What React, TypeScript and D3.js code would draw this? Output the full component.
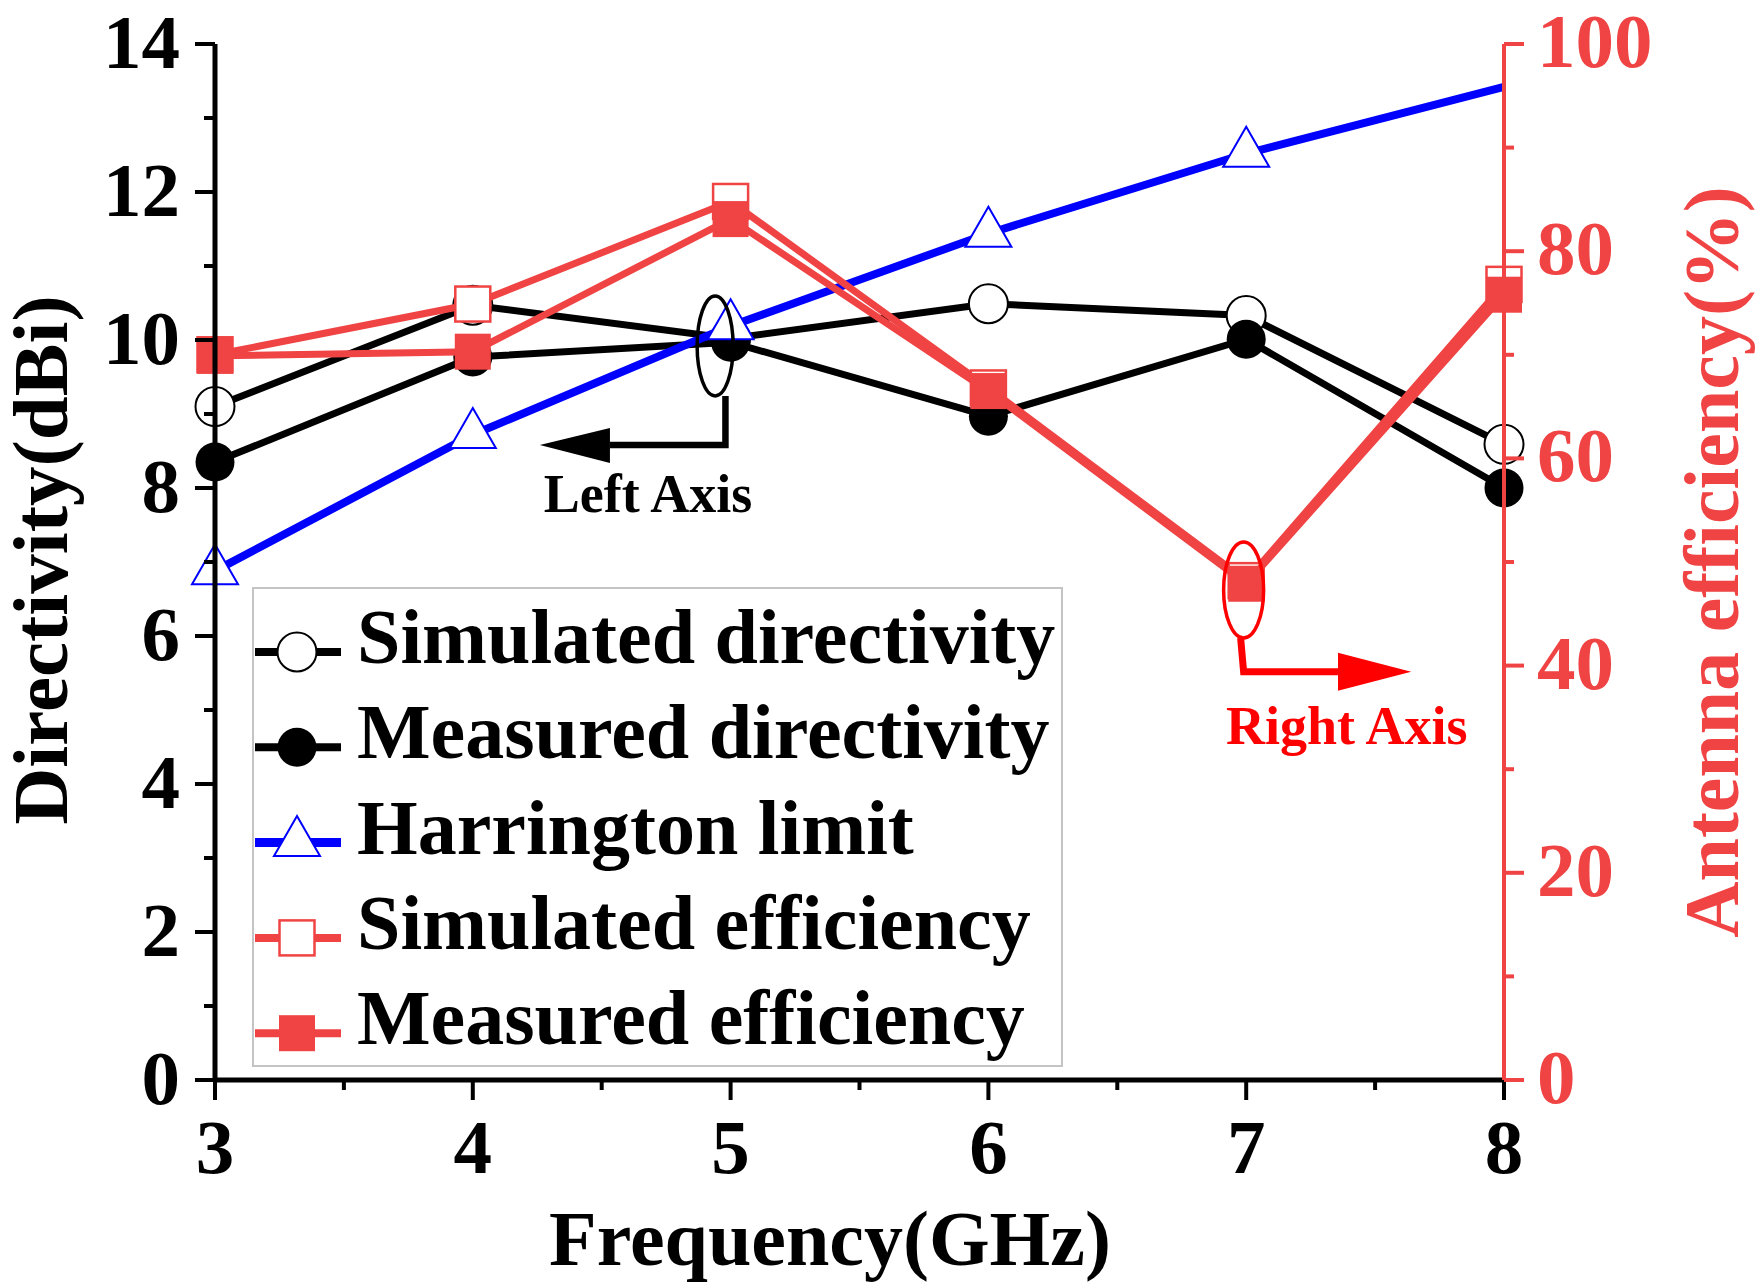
import React, { useEffect } from "react";
import * as d3 from "d3";

// ---- data ----
const frequency = [3, 4, 5, 6, 7, 8];
const simulatedDirectivity = [9.1, 10.47, 10.02, 10.49, 10.33, 8.59];
const measuredDirectivity = [8.35, 9.77, 9.97, 8.97, 10.01, 8.0];
const harringtonLimit = [6.88, 8.72, 10.19, 11.44, 12.52, 13.42];
const simulatedEfficiency = [70.0, 74.9, 84.8, 66.8, 48.2, 76.8];
const measuredEfficiency = [69.9, 70.3, 83.1, 66.5, 47.9, 75.8];

const xTickValues = [3, 4, 5, 6, 7, 8];
const xMinorTicks = [3.5, 4.5, 5.5, 6.5, 7.5];
const leftTickValues = [0, 2, 4, 6, 8, 10, 12, 14];
const leftMinorTicks = [1, 3, 5, 7, 9, 11, 13];
const rightTickValues = [0, 20, 40, 60, 80, 100];
const rightMinorTicks = [10, 30, 50, 70, 90];

const legendLabels = [
  "Simulated directivity",
  "Measured directivity",
  "Harrington limit",
  "Simulated efficiency",
  "Measured efficiency",
];

const FONT = '"Liberation Serif", "Times New Roman", serif';
const RED = "#F04343";
const BRIGHT_RED = "#FF0000";
const BLUE = "#0000FF";

type MarkerKind = "openCircle" | "filledCircle" | "triangle" | "openSquare" | "filledSquare";

function Marker({ kind, cx, cy }: { kind: MarkerKind; cx: number; cy: number }) {
  if (kind === "openCircle")
    return <circle cx={cx} cy={cy} r={19.5} fill="#fff" stroke="#000" strokeWidth={2} />;
  if (kind === "filledCircle") return <circle cx={cx} cy={cy} r={19.5} fill="#000" />;
  if (kind === "openSquare")
    return <rect x={cx - 17.5} y={cy - 17.5} width={35} height={35} fill="#fff" stroke={RED} strokeWidth={2.5} />;
  if (kind === "filledSquare") return <rect x={cx - 18} y={cy - 18} width={36} height={36} fill={RED} />;
  const w = 46,
    h = 40;
  const pts = [
    [cx, cy - (2 * h) / 3],
    [cx + w / 2, cy + h / 3],
    [cx - w / 2, cy + h / 3],
  ];
  return <polygon points={pts.map((p) => p.join(",")).join(" ")} fill="#fff" stroke={BLUE} strokeWidth={2} />;
}

export default function App() {
  useEffect(() => {
    document.body.style.margin = "0";
  }, []);

  const W = 1757;
  const H = 1288;
  const x = d3.scaleLinear().domain([3, 8]).range([215, 1504]);
  const yL = d3.scaleLinear().domain([0, 14]).range([1080, 44]);
  const yR = d3.scaleLinear().domain([0, 100]).range([1080, 44]);

  const lineL = (vals: number[]) =>
    d3.line<number>().x((_, i) => x(frequency[i])).y((d) => yL(d))(vals) || "";
  const lineR = (vals: number[]) =>
    d3.line<number>().x((_, i) => x(frequency[i])).y((d) => yR(d))(vals) || "";

  const series = [
    { vals: simulatedDirectivity, axis: "L", color: "#000", width: 7, marker: "openCircle" as MarkerKind, markerCount: 6 },
    { vals: measuredDirectivity, axis: "L", color: "#000", width: 7, marker: "filledCircle" as MarkerKind, markerCount: 6 },
    { vals: harringtonLimit, axis: "L", color: BLUE, width: 8, marker: "triangle" as MarkerKind, markerCount: 5 },
    { vals: simulatedEfficiency, axis: "R", color: RED, width: 7, marker: "openSquare" as MarkerKind, markerCount: 6 },
    { vals: measuredEfficiency, axis: "R", color: RED, width: 7, marker: "filledSquare" as MarkerKind, markerCount: 6 },
  ];

  const axisX0 = x(3);
  const axisX1 = x(8);
  const axisY0 = yL(0);
  const axisY1 = yL(14);

  // legend layout
  const legX = 253,
    legY = 588,
    legW = 809,
    legH = 478;
  const rowY0 = 652,
    rowStep = 95.3;

  // annotations (in data space)
  const leftEll = { cx: x(4.94), cy: yL(9.92) };
  const leftCorner = { x: x(4.98), y: yL(8.58) };
  const leftArrowBase = x(4.532);
  const leftArrowTip = x(4.26);
  const rightEll = { cx: x(6.99), cy: yR(47.3) };
  const rightCorner = { x: x(6.99), y: yR(39.4) };
  const rightArrowBase = x(7.356);
  const rightArrowTip = x(7.64);

  return (
    <svg
      width={W}
      height={H}
      viewBox={`0 0 ${W} ${H}`}
      style={{ display: "block", position: "absolute", left: 0, top: 0, background: "#fff" }}
      fontFamily={FONT}
      fontWeight="bold"
    >
      <rect x={0} y={0} width={W} height={H} fill="#fff" />

      {/* series */}
      {series.map((s, si) => {
        const y = s.axis === "L" ? yL : yR;
        const d = s.axis === "L" ? lineL(s.vals) : lineR(s.vals);
        return (
          <g key={si}>
            <path d={d} fill="none" stroke={s.color} strokeWidth={s.width} strokeLinejoin="miter" />
            {s.vals.slice(0, s.markerCount).map((v, i) => (
              <Marker key={i} kind={s.marker} cx={x(frequency[i])} cy={y(v)} />
            ))}
          </g>
        );
      })}

      {/* left axis */}
      <line x1={axisX0} x2={axisX0} y1={axisY1} y2={axisY0 + 2} stroke="#000" strokeWidth={5} />
      {leftTickValues.map((t) => (
        <g key={"lt" + t}>
          <line x1={axisX0 - 20} x2={axisX0} y1={yL(t)} y2={yL(t)} stroke="#000" strokeWidth={4} />
          <text x={axisX0 - 35} y={yL(t) + 24} textAnchor="end" fontSize={77} fill="#000">
            {t}
          </text>
        </g>
      ))}
      {leftMinorTicks.map((t) => (
        <line key={"lm" + t} x1={axisX0 - 11} x2={axisX0} y1={yL(t)} y2={yL(t)} stroke="#000" strokeWidth={4} />
      ))}

      {/* bottom axis */}
      <line x1={axisX0} x2={axisX1} y1={axisY0} y2={axisY0} stroke="#000" strokeWidth={5} />
      {xTickValues.map((t) => (
        <g key={"xt" + t}>
          <line x1={x(t)} x2={x(t)} y1={axisY0} y2={axisY0 + 20} stroke="#000" strokeWidth={4} />
          <text x={x(t)} y={1173} textAnchor="middle" fontSize={77} fill="#000">
            {t}
          </text>
        </g>
      ))}
      {xMinorTicks.map((t) => (
        <line key={"xm" + t} x1={x(t)} x2={x(t)} y1={axisY0} y2={axisY0 + 10} stroke="#000" strokeWidth={4} />
      ))}

      {/* right axis */}
      <line x1={axisX1} x2={axisX1} y1={yR(100)} y2={yR(0)} stroke={RED} strokeWidth={4} />
      {rightTickValues.map((t) => (
        <g key={"rt" + t}>
          <line x1={axisX1} x2={axisX1 + 20} y1={yR(t)} y2={yR(t)} stroke={RED} strokeWidth={4} />
          <text x={axisX1 + 33} y={yR(t) + 23} textAnchor="start" fontSize={77} fill={RED}>
            {t}
          </text>
        </g>
      ))}
      {rightMinorTicks.map((t) => (
        <line key={"rm" + t} x1={axisX1} x2={axisX1 + 10} y1={yR(t)} y2={yR(t)} stroke={RED} strokeWidth={4} />
      ))}

      {/* axis titles */}
      <text x={830} y={1265} textAnchor="middle" fontSize={78} fill="#000">
        Frequency(GHz)
      </text>
      <text transform={`translate(67,560) rotate(-90)`} textAnchor="middle" fontSize={79} fill="#000">
        Directivity(dBi)
      </text>
      <text transform={`translate(1738,562) rotate(-90)`} textAnchor="middle" fontSize={78} fill={RED}>
        Antenna efficiency(%)
      </text>

      {/* left annotation */}
      <ellipse cx={leftEll.cx} cy={leftEll.cy} rx={18} ry={50} fill="none" stroke="#000" strokeWidth={3.5} />
      <polyline
        points={`${leftCorner.x},${leftEll.cy + 50} ${leftCorner.x},${leftCorner.y} ${leftArrowBase},${leftCorner.y}`}
        fill="none"
        stroke="#000"
        strokeWidth={6.5}
      />
      <polygon
        points={`${leftArrowBase},${leftCorner.y - 17} ${leftArrowTip},${leftCorner.y} ${leftArrowBase},${leftCorner.y + 18}`}
        fill="#000"
      />
      <text x={x(4.68)} y={yL(7.68)} textAnchor="middle" fontSize={54} fill="#000">
        Left Axis
      </text>

      {/* right annotation */}
      <ellipse cx={rightEll.cx} cy={rightEll.cy} rx={20} ry={48} fill="none" stroke={BRIGHT_RED} strokeWidth={3.5} />
      <polyline
        points={`${rightCorner.x - 3},${rightEll.cy + 48} ${rightCorner.x},${rightCorner.y} ${rightArrowBase},${rightCorner.y}`}
        fill="none"
        stroke={BRIGHT_RED}
        strokeWidth={7}
      />
      <polygon
        points={`${rightArrowBase},${rightCorner.y - 19} ${rightArrowTip},${rightCorner.y} ${rightArrowBase},${rightCorner.y + 19}`}
        fill={BRIGHT_RED}
      />
      <text x={x(7.39)} y={yR(32.4)} textAnchor="middle" fontSize={54} fill={BRIGHT_RED}>
        Right Axis
      </text>

      {/* legend */}
      <rect x={legX} y={legY} width={legW} height={legH} fill="#fff" stroke="#C4C4C4" strokeWidth={2} />
      {legendLabels.map((label, i) => {
        const s = series[i];
        const ry = rowY0 + i * rowStep;
        return (
          <g key={label}>
            <line x1={legX + 2} x2={341} y1={ry} y2={ry} stroke={s.color} strokeWidth={s.width + 1} />
            <Marker kind={s.marker} cx={297} cy={ry} />
            <text x={357} y={ry + 11} fontSize={78} fill="#000">
              {label}
            </text>
          </g>
        );
      })}
    </svg>
  );
}
